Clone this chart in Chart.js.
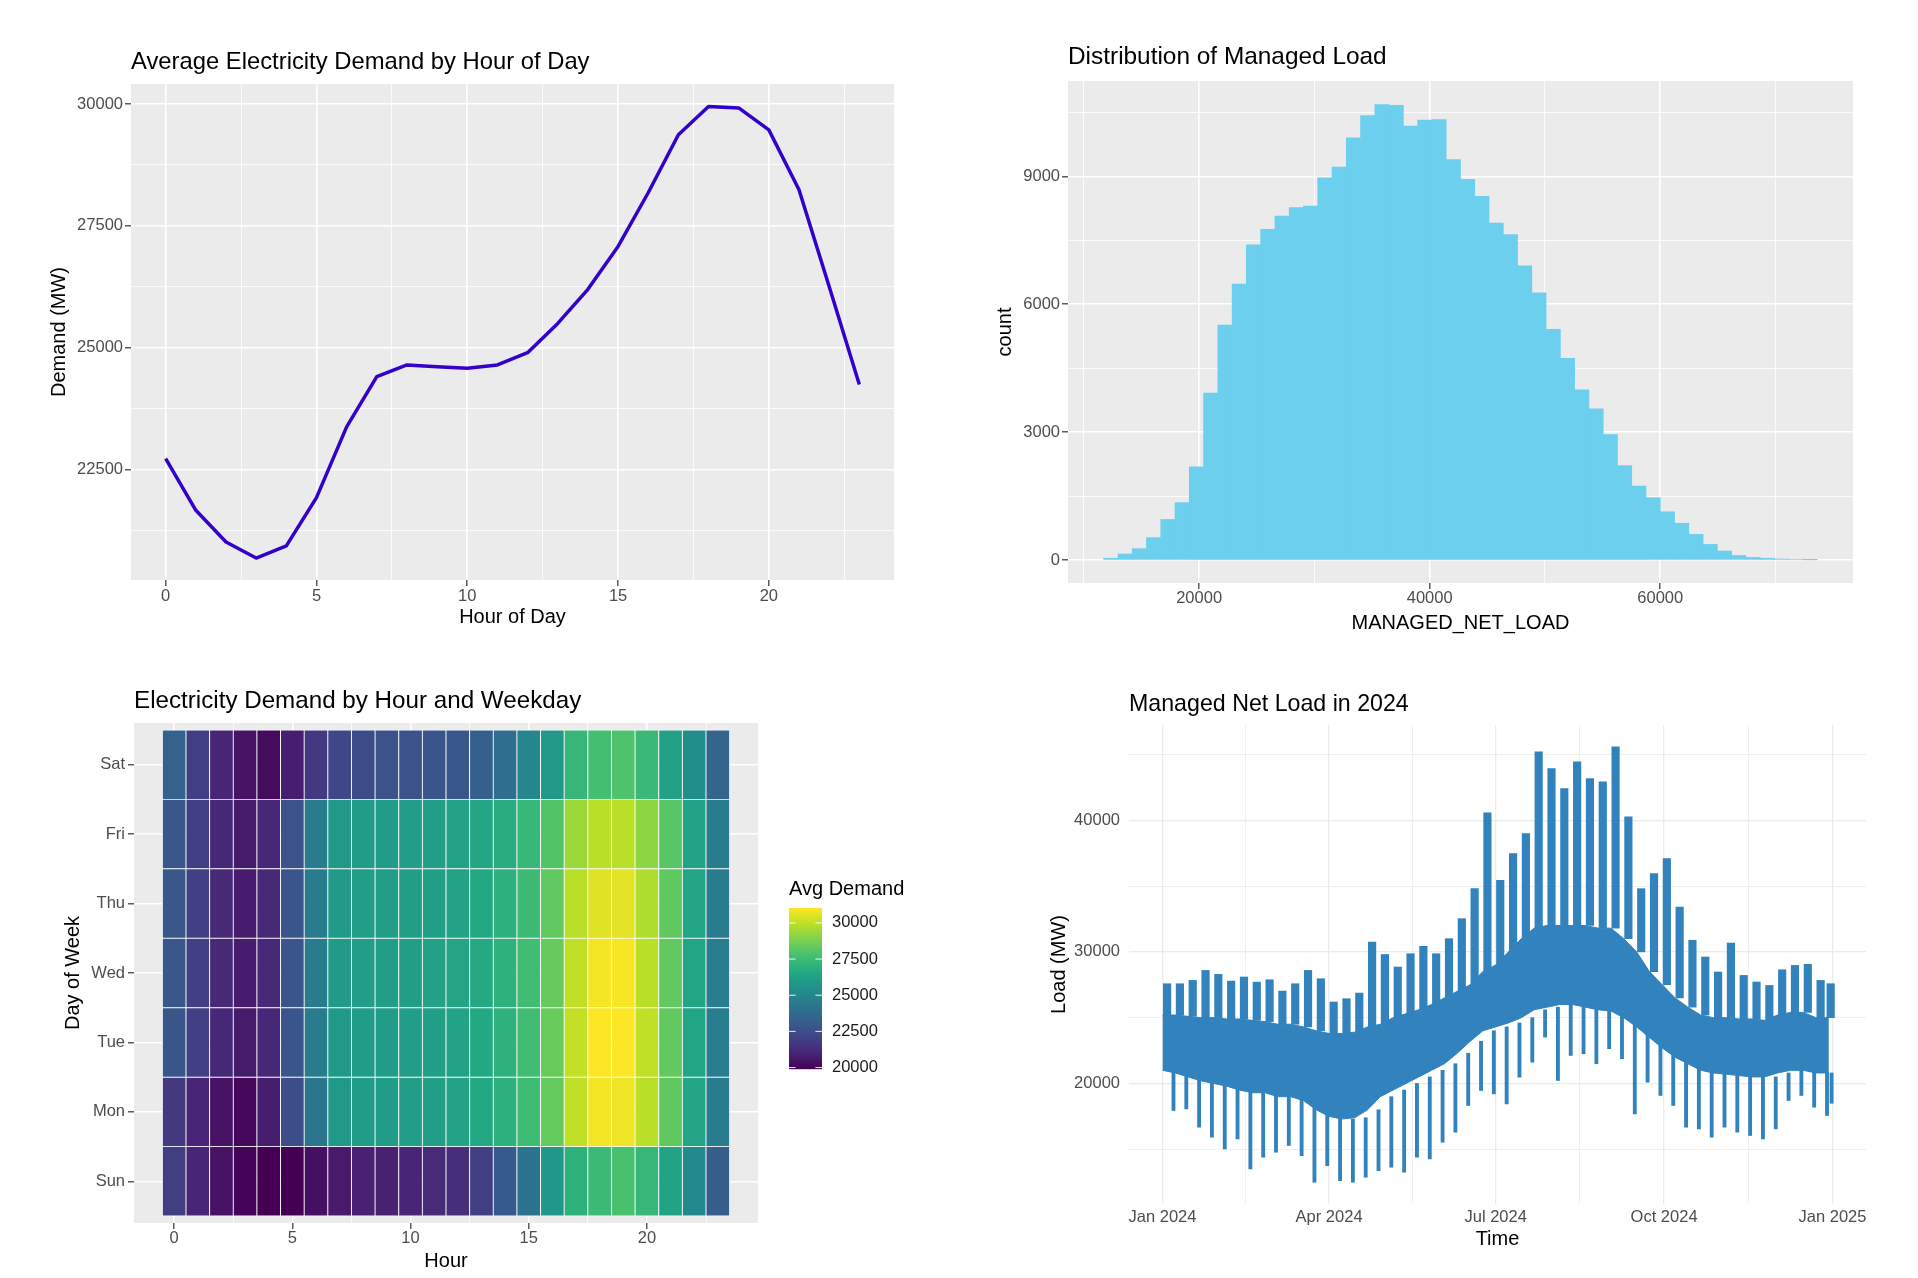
<!DOCTYPE html>
<html>
<head>
<meta charset="utf-8">
<script src="https://cdn.jsdelivr.net/npm/chart.js@4.4.1/dist/chart.umd.min.js"></script>
<style>
  body { margin: 0; background: #fff; width: 1918px; height: 1278px; position: relative; overflow: hidden; }
  canvas { position: absolute; }
</style>
</head>
<body>
<canvas id="hourly" width="960" height="640" style="left:0px;top:0px"></canvas>
<canvas id="hist" width="958" height="640" style="left:960px;top:0px"></canvas>
<canvas id="heat" width="960" height="638" style="left:0px;top:640px"></canvas>
<canvas id="series" width="958" height="638" style="left:960px;top:640px"></canvas>
<script>
// ---- average demand by hour ----
const hours = [0, 1, 2, 3, 4, 5, 6, 7, 8, 9, 10, 11, 12, 13, 14, 15, 16, 17, 18, 19, 20, 21, 22, 23];
const hourlyDemand = [22730, 21670, 21020, 20690, 20940, 21930, 23380, 24410, 24650, 24610, 24580, 24650,
  24900, 25500, 26200, 27080, 28180, 29370, 29950, 29920, 29470, 28240, 26260, 24250];

// ---- histogram of managed load ----
const binStart = 11720;
const binWidth = 1238;
const loadCounts = [45, 145, 270, 530, 955, 1350, 2190, 3920, 5515, 6475, 7395, 7760, 8070, 8265, 8300, 8965,
  9215, 9900, 10425, 10680, 10665, 10180, 10320, 10330, 9390, 8930, 8530, 7905, 7635, 6900, 6270, 5415,
  4735, 3995, 3550, 2945, 2220, 1735, 1465, 1135, 865, 605, 370, 215, 110, 65, 45, 27, 18, 9];

// ---- heatmap hour x weekday ----
const weekdays = ['Sun', 'Mon', 'Tue', 'Wed', 'Thu', 'Fri', 'Sat'];
const demandSun = [21900, 21000, 20450, 20000, 19900, 19900, 20350, 20680, 20900, 20900, 21010, 21240, 21350, 21900, 23020, 24130, 25800, 27020, 27470, 27800, 27250, 26350, 25130, 23130];
const demandMon = [21700, 21000, 20450, 20120, 20800, 22500, 24250, 25900, 26000, 26000, 26050, 26200, 26350, 26600, 26950, 27550, 28350, 30000, 30900, 30800, 29900, 28250, 26400, 24550];
const demandTue = [22850, 21950, 21100, 20700, 21100, 22800, 24500, 25900, 26000, 26000, 26050, 26200, 26350, 26600, 27000, 27600, 28450, 30050, 31030, 31000, 30000, 28300, 26450, 24600];
const demandWed = [22900, 22000, 21150, 20750, 21150, 22800, 24550, 25950, 26050, 26050, 26100, 26250, 26400, 26650, 27000, 27600, 28400, 30000, 30900, 30950, 29900, 28300, 26450, 24600];
const demandThu = [22900, 22000, 21150, 20750, 21150, 22800, 24550, 25950, 26050, 26050, 26100, 26200, 26350, 26600, 26950, 27500, 28300, 29900, 30500, 30600, 29700, 28250, 26400, 24550];
const demandFri = [22900, 21900, 21100, 20700, 21100, 22700, 24500, 25900, 26000, 26000, 26050, 26150, 26300, 26500, 26800, 27300, 28000, 29400, 29900, 29900, 29150, 28100, 26350, 24500];
const demandSat = [23350, 21900, 21000, 20450, 20230, 20790, 21680, 22240, 22460, 22680, 22700, 22790, 22900, 23240, 23900, 25020, 25910, 27250, 27690, 27910, 27360, 26240, 25350, 23460];
const heatRows = [demandSun, demandMon, demandTue, demandWed, demandThu, demandFri, demandSat];
const legendBreaks = [20000, 22500, 25000, 27500, 30000];

// ---- net load 2024, one entry per week ----
const weekPeak = [27580, 27580, 27830, 28590, 28290, 27780, 28090, 27700, 27880, 27020, 27580, 28590, 27960, 26190,
  26440, 26870, 30750, 29800, 28850, 29860, 30420, 29860, 31000, 32520, 34800, 40560, 35440, 37470, 38990, 45200,
  43930, 42410, 44440, 43170, 42920, 45580, 40250, 34800, 35950, 37090, 33410, 30880, 29610, 28470, 30670, 28210,
  27710, 27450, 28640, 28970, 29050, 27830, 27580];
const weekHigh = [25200, 25200, 25100, 25000, 25000, 24900, 24900, 24800, 24700, 24500, 24500, 24300, 24000, 23800,
  23800, 23900, 24300, 24500, 25000, 25300, 25600, 26000, 26500, 27000, 27500, 28500, 29000, 30000, 31000, 31800,
  32000, 32000, 32000, 32000, 31800, 31800, 31000, 30000, 28500, 27500, 26500, 25800, 25200, 25000, 25000, 24900,
  24900, 24800, 25200, 25400, 25400, 25000, 25000];
const weekLow = [21000, 20800, 20500, 20200, 20000, 19800, 19500, 19300, 19300, 19000, 19000, 18700, 18000, 17500,
  17300, 17400, 18000, 19000, 19500, 20000, 20500, 21000, 21500, 22300, 23200, 24000, 24300, 24600, 25000, 25600,
  25800, 26000, 26000, 25800, 25600, 25500, 25000, 24300, 23500, 22700, 22000, 21500, 21000, 20800, 20700, 20600,
  20500, 20500, 20800, 21000, 21000, 20800, 20800];
const weekDip = [17950, 18070, 16680, 15920, 15030, 15790, 13510, 14400, 14780, 15290, 14520, 12500, 13760, 12620,
  12500, 12880, 13380, 13640, 13260, 14400, 14270, 15540, 16300, 18330, 19470, 19210, 18450, 20480, 21620, 23520,
  20230, 22130, 22260, 21500, 22640, 21880, 17690, 20100, 19090, 18330, 16680, 16550, 15920, 16680, 16300, 16050,
  15790, 16550, 18710, 19090, 18200, 17570, 18500];
const monthTicks = [0, 91, 182, 274, 366];
const monthLabels = ['Jan 2024', 'Apr 2024', 'Jul 2024', 'Oct 2024', 'Jan 2025'];

const FONT = "'Liberation Sans', Arial, Helvetica, sans-serif";
Chart.defaults.font.family = FONT;
Chart.defaults.animation = false;
Chart.defaults.responsive = false;
Chart.defaults.devicePixelRatio = 1;
Chart.defaults.plugins.legend.display = false;
Chart.defaults.plugins.tooltip.enabled = false;

const panelBg = {
  id: 'panelBg',
  beforeDraw(chart, args, opts) {
    if (!opts.color) return;
    const { ctx, chartArea: a } = chart;
    ctx.save();
    ctx.fillStyle = opts.color;
    ctx.fillRect(a.left, a.top, a.width, a.height);
    ctx.restore();
  }
};

const panelTitle = {
  id: 'panelTitle',
  afterDraw(chart, args, opts) {
    const { ctx, chartArea: a } = chart;
    ctx.save();
    ctx.font = opts.size + 'px ' + FONT;
    ctx.fillStyle = '#000';
    ctx.textBaseline = 'alphabetic';
    ctx.fillText(opts.text, a.left, a.top - opts.gap);
    ctx.restore();
  }
};

function linearAxis(o) {
  const all = o.major.concat(o.minor || []).sort((a, b) => a - b);
  const isMajor = v => o.major.some(m => Math.abs(m - v) < 1e-6);
  return {
    type: 'linear',
    position: o.pos,
    min: o.min,
    max: o.max,
    offset: false,
    afterBuildTicks: s => { s.ticks = all.map(v => ({ value: v })); },
    afterFit: s => { if (o.pos === 'left') s.width = o.size; else s.height = o.size; },
    ticks: {
      autoSkip: false,
      maxRotation: 0,
      minRotation: 0,
      padding: o.tickPad,
      color: '#4d4d4d',
      font: { size: 16.5 },
      callback: v => isMajor(v) ? (o.label ? o.label(v) : String(v)) : ''
    },
    grid: {
      offset: false,
      color: o.gridColor,
      lineWidth: c => (c.tick && isMajor(c.tick.value)) ? o.majorW : o.minorW,
      drawTicks: o.tickLen > 0,
      tickLength: o.tickLen,
      tickWidth: 1.2,
      tickColor: c => (c.tick && isMajor(c.tick.value)) ? '#333333' : 'rgba(0,0,0,0)'
    },
    border: { display: false },
    title: {
      display: true, text: o.title, color: '#000', font: { size: 20 },
      padding: { top: o.titlePad, bottom: o.titlePad }
    }
  };
}

// viridis
const viridisStops = ['#440154', '#482576', '#414487', '#35608d', '#2a788e', '#21908c', '#22a884', '#43bf71', '#7ad151', '#bbdf27', '#fde725'];
function hexRgb(h) { return [1, 3, 5].map(i => parseInt(h.slice(i, i + 2), 16)); }
function viridis(t) {
  t = Math.max(0, Math.min(1, t));
  const p = t * 10, i = Math.min(9, Math.floor(p)), f = p - i;
  const a = hexRgb(viridisStops[i]), b = hexRgb(viridisStops[i + 1]);
  const c = a.map((v, k) => Math.round(v + (b[k] - v) * f));
  return 'rgb(' + c.join(',') + ')';
}

// ---- chart 1 ----
new Chart(document.getElementById('hourly'), {
  type: 'line',
  data: {
    datasets: [{
      data: hours.map((h, i) => ({ x: h, y: hourlyDemand[i] })),
      borderColor: '#3300cc',
      borderWidth: 3.5,
      pointRadius: 0,
      tension: 0,
      borderJoinStyle: 'round'
    }]
  },
  options: {
    layout: { padding: { top: 84, right: 66, left: 0, bottom: 0 } },
    scales: {
      x: linearAxis({ pos: 'bottom', min: -1.15, max: 24.15, major: [0, 5, 10, 15, 20], minor: [2.5, 7.5, 12.5, 17.5, 22.5],
        size: 60, tickPad: 1, tickLen: 6, title: 'Hour of Day', titlePad: 11, gridColor: '#ffffff', majorW: 1.6, minorW: 0.8 }),
      y: linearAxis({ pos: 'left', min: 20240, max: 30410, major: [22500, 25000, 27500, 30000], minor: [21250, 23750, 26250, 28750],
        size: 131, tickPad: 2, tickLen: 6, title: 'Demand (MW)', titlePad: 47, gridColor: '#ffffff', majorW: 1.6, minorW: 0.8 })
    },
    plugins: {
      panelBg: { color: '#ebebeb' },
      panelTitle: { text: 'Average Electricity Demand by Hour of Day', gap: 15, size: 23.8 }
    }
  },
  plugins: [panelBg, panelTitle]
});

// ---- chart 2 ----
new Chart(document.getElementById('hist'), {
  type: 'bar',
  data: {
    datasets: [{
      data: loadCounts.map((c, i) => ({ x: binStart + binWidth * (i + 0.5), y: c })),
      backgroundColor: '#6ccfee',
      borderWidth: 0,
      barPercentage: 1,
      categoryPercentage: 1
    }]
  },
  options: {
    layout: { padding: { top: 81, right: 65, left: 0, bottom: 0 } },
    scales: {
      x: linearAxis({ pos: 'bottom', min: 8627, max: 76718, major: [20000, 40000, 60000], minor: [10000, 30000, 50000, 70000],
        size: 57, tickPad: 0, tickLen: 6, title: 'MANAGED_NET_LOAD', titlePad: 5, gridColor: '#ffffff', majorW: 1.6, minorW: 0.8 }),
      y: linearAxis({ pos: 'left', min: -535, max: 11235, major: [0, 3000, 6000, 9000], minor: [1500, 4500, 7500, 10500],
        size: 108, tickPad: 2, tickLen: 6, title: 'count', titlePad: 33, gridColor: '#ffffff', majorW: 1.6, minorW: 0.8 })
    },
    plugins: {
      panelBg: { color: '#ebebeb' },
      panelTitle: { text: 'Distribution of Managed Load', gap: 17, size: 24.4 }
    }
  },
  plugins: [panelBg, panelTitle]
});

// ---- chart 3 ----
const heatAll = heatRows.flat();
const heatMin = Math.min(...heatAll);
const heatMax = Math.max(...heatAll);
const heatColor = v => viridis((v - heatMin) / (heatMax - heatMin));

const colorbar = {
  id: 'colorbar',
  afterDraw(chart, args, opts) {
    const { ctx, chartArea: a } = chart;
    const x = a.right + opts.dx, top = opts.top, w = opts.width, h = opts.height;
    ctx.save();
    ctx.font = '20px ' + FONT;
    ctx.fillStyle = '#000';
    ctx.fillText('Avg Demand', x, top - 13);
    for (let i = 0; i < h; i++) {
      ctx.fillStyle = viridis(1 - (i + 0.5) / h);
      ctx.fillRect(x, top + i, w, 1.2);
    }
    ctx.font = '16.5px ' + FONT;
    ctx.textBaseline = 'middle';
    legendBreaks.forEach(v => {
      const y = top + h - (v - heatMin) / (heatMax - heatMin) * h;
      ctx.strokeStyle = 'rgba(255,255,255,0.9)';
      ctx.lineWidth = 1;
      ctx.beginPath();
      ctx.moveTo(x, y); ctx.lineTo(x + w * 0.2, y);
      ctx.moveTo(x + w * 0.8, y); ctx.lineTo(x + w, y);
      ctx.stroke();
      ctx.fillStyle = '#1a1a1a';
      ctx.fillText(String(v), x + w + 10, y);
    });
    ctx.restore();
  }
};

new Chart(document.getElementById('heat'), {
  type: 'bar',
  data: {
    datasets: heatRows.map((row, d) => ({
      label: weekdays[d],
      data: row.map((v, i) => ({ x: hours[i], y: [d - 0.5, d + 0.5] })),
      backgroundColor: row.map(heatColor),
      borderColor: 'rgba(255,255,255,0.85)',
      borderWidth: 0.8,
      borderSkipped: false,
      grouped: false,
      barPercentage: 1,
      categoryPercentage: 1
    }))
  },
  options: {
    layout: { padding: { top: 83, right: 202, left: 0, bottom: 0 } },
    scales: {
      x: linearAxis({ pos: 'bottom', min: -1.7, max: 24.7, major: [0, 5, 10, 15, 20], minor: [2.5, 7.5, 12.5, 17.5, 22.5],
        size: 55, tickPad: 0, tickLen: 6, title: 'Hour', titlePad: 5, gridColor: '#ffffff', majorW: 1.6, minorW: 0.8 }),
      y: linearAxis({ pos: 'left', min: -0.6, max: 6.6, major: [0, 1, 2, 3, 4, 5, 6], minor: [],
        size: 134, tickPad: 3, tickLen: 6, title: 'Day of Week', titlePad: 61, gridColor: '#ffffff', majorW: 1.6, minorW: 0.8,
        label: v => weekdays[v] })
    },
    plugins: {
      panelBg: { color: '#ebebeb' },
      panelTitle: { text: 'Electricity Demand by Hour and Weekday', gap: 15, size: 24.2 },
      colorbar: { dx: 31, top: 268, width: 33, height: 161 }
    }
  },
  plugins: [panelBg, panelTitle, colorbar]
});

// ---- chart 4 ----
const weekStart = weekPeak.map((v, i) => i * 7);
const lineBlue = '#3182bd';
new Chart(document.getElementById('series'), {
  type: 'bar',
  data: {
    datasets: [
      {
        type: 'line',
        data: weekStart.map((d, i) => ({ x: d, y: weekHigh[i] })),
        borderColor: lineBlue, backgroundColor: lineBlue, borderWidth: 1, pointRadius: 0, tension: 0,
        fill: '+1'
      },
      {
        type: 'line',
        data: weekStart.map((d, i) => ({ x: d, y: weekLow[i] })),
        borderColor: lineBlue, borderWidth: 1, pointRadius: 0, tension: 0, fill: false
      },
      {
        data: weekStart.map((d, i) => ({ x: Math.min(d + 2.5, 365), y: [weekHigh[i], weekPeak[i]] })),
        backgroundColor: lineBlue, barThickness: 7.5, grouped: false
      },
      {
        data: weekStart.map((d, i) => ({ x: Math.min(d + 6, 365.5), y: [weekDip[i], weekLow[i]] })),
        backgroundColor: lineBlue, barThickness: 3.2, grouped: false
      }
    ]
  },
  options: {
    layout: { padding: { top: 85, right: 52, left: 0, bottom: 0 } },
    scales: {
      x: linearAxis({ pos: 'bottom', min: -18.3, max: 384.3, major: monthTicks, minor: [45.5, 136.5, 228, 320],
        size: 74, tickPad: 4, tickLen: 0, title: 'Time', titlePad: 27, gridColor: '#ebebeb', majorW: 1.3, minorW: 0.8,
        label: v => monthLabels[monthTicks.indexOf(v)] }),
      y: linearAxis({ pos: 'left', min: 10846, max: 47234, major: [20000, 30000, 40000], minor: [15000, 25000, 35000, 45000],
        size: 169, tickPad: 9, tickLen: 0, title: 'Load (MW)', titlePad: 87, gridColor: '#ebebeb', majorW: 1.3, minorW: 0.8 })
    },
    plugins: {
      panelBg: {},
      panelTitle: { text: 'Managed Net Load in 2024', gap: 14, size: 23.2 }
    }
  },
  plugins: [panelBg, panelTitle]
});
</script>
</body>
</html>
